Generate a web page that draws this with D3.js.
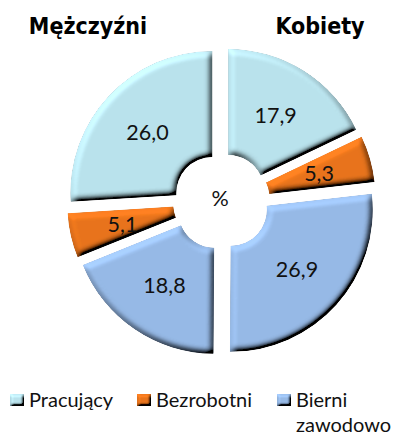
<!DOCTYPE html>
<html lang="pl">
<head>
<meta charset="utf-8">
<title>Aktywność ekonomiczna</title>
<script src="https://d3js.org/d3.v7.min.js"></script>
<style>
  body { margin: 0; background: #fff; }
  svg { display: block; }
  .title { font-family: "Liberation Sans Narrow", "DejaVu Sans Condensed", sans-serif; font-weight: bold; font-size: 23px; fill: #000; }
  .val { font-family: Lato, "Open Sans", sans-serif; font-size: 21.5px; fill: #111; }
  .leg { font-family: Lato, "Open Sans", sans-serif; font-size: 20px; fill: #111; }
</style>
</head>
<body>
<script>
// data
var groups = ["Kobiety", "Mężczyźni"];
var categories = ["Pracujący", "Bezrobotni", "Bierni zawodowo"];
var kobiety = [17.9, 5.3, 26.9];
var mezczyzni = [26.0, 5.1, 18.8];
var colors = ["#b9e2ec", "#e8741c", "#96b9e6"];

var width = 402, height = 436;
var cx = 221.5, cy = 201.5;
var rOuter = 142, rInner = 36, explode = 12.5;

var svg = d3.select("body").append("svg")
    .attr("width", width)
    .attr("height", height);

// bevel filters (light from top-left)
var defs = svg.append("defs");
function bevel(id, blur, scale) {
  var f = defs.append("filter").attr("id", id)
      .attr("x", "-20%").attr("y", "-20%").attr("width", "140%").attr("height", "140%");
  f.append("feGaussianBlur").attr("in", "SourceAlpha").attr("stdDeviation", blur).attr("result", "blur");
  f.append("feDiffuseLighting").attr("in", "blur").attr("surfaceScale", scale)
      .attr("diffuseConstant", 1).attr("lighting-color", "#fff").attr("result", "light")
    .append("feDistantLight").attr("azimuth", 235).attr("elevation", 48);
  f.append("feComposite").attr("in", "SourceGraphic").attr("in2", "light")
      .attr("operator", "arithmetic").attr("k1", 1.34).attr("k2", 0).attr("k3", 0).attr("k4", 0)
      .attr("result", "lit");
  f.append("feComposite").attr("in", "lit").attr("in2", "SourceAlpha").attr("operator", "in");
}
bevel("bevel", 3.2, 6);
bevel("bevelSmall", 1.5, 4);

// slices clockwise from 12 o'clock: women, then men in reverse
var slices = [];
kobiety.forEach(function(v, i) { slices.push({group: groups[0], cat: i, value: v}); });
mezczyzni.slice().reverse().forEach(function(v, i) { slices.push({group: groups[1], cat: 2 - i, value: v}); });

var pie = d3.pie().sort(null).value(function(d) { return d.value; });
var arc = d3.arc().innerRadius(rInner).outerRadius(rOuter);

var g = svg.append("g").attr("transform", "translate(" + cx + "," + cy + ")");

var slice = g.selectAll("g.slice")
    .data(pie(slices))
    .enter().append("g")
    .attr("class", "slice")
    .attr("transform", function(d) {
      var a = (d.startAngle + d.endAngle) / 2;
      return "translate(" + (Math.sin(a) * explode) + "," + (-Math.cos(a) * explode) + ")";
    });

slice.append("path")
    .attr("d", arc)
    .attr("fill", function(d) { return colors[d.data.cat]; })
    .attr("filter", "url(#bevel)");

slice.append("text")
    .attr("class", "val")
    .attr("transform", function(d) { return "translate(" + arc.centroid(d) + ")"; })
    .attr("text-anchor", "middle")
    .attr("dy", "0.36em")
    .text(function(d) { return d3.format(".1f")(d.data.value).replace(".", ","); });

g.append("text")
    .attr("class", "val")
    .attr("x", -1.5)
    .attr("y", -3)
    .attr("text-anchor", "middle")
    .attr("dy", "0.36em")
    .text("%");

// group titles
svg.append("text").attr("class", "title")
    .attr("x", 88).attr("y", 34).attr("text-anchor", "middle")
    .text(groups[1]);
svg.append("text").attr("class", "title")
    .attr("x", 320).attr("y", 34).attr("text-anchor", "middle")
    .text(groups[0]);

// legend
var legX = [10, 137, 277];
var leg = svg.append("g").attr("class", "legend");
categories.forEach(function(c, i) {
  var item = leg.append("g").attr("transform", "translate(" + legX[i] + ",394)");
  item.append("rect")
      .attr("width", 14).attr("height", 12)
      .attr("fill", colors[i])
      .attr("filter", "url(#bevelSmall)");
  c.split(" ").forEach(function(w, j) {
    item.append("text").attr("class", "leg")
        .attr("x", 19).attr("y", 13 + j * 24.5)
        .text(w);
  });
});
</script>
</body>
</html>
